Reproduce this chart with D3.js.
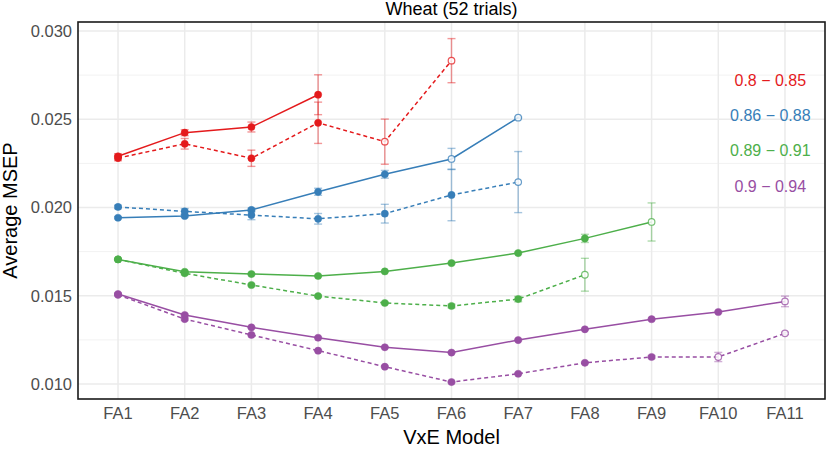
<!DOCTYPE html>
<html>
<head>
<meta charset="utf-8">
<script src="https://cdn.jsdelivr.net/npm/d3@7"></script>
<style>
  body { margin: 0; background: #fff; }
  text { font-family: "Liberation Sans", Arial, sans-serif; }
</style>
</head>
<body>
<svg width="829" height="464"></svg>
<script>
// data
const models = ["FA1", "FA2", "FA3", "FA4", "FA5", "FA6", "FA7", "FA8", "FA9", "FA10", "FA11"];
const groups = ["0.8 \u2212 0.85", "0.86 \u2212 0.88", "0.89 \u2212 0.91", "0.9 \u2212 0.94"];
const colors = ["#E41A1C", "#377EB8", "#4DAF4A", "#984EA3"];
const yTicks = [0.010, 0.015, 0.020, 0.025, 0.030];
const yMinor = [0.0125, 0.0175, 0.0225, 0.0275];

// solid = one model type, dashed = the other
const redSolid = [0.02290, 0.02424, 0.02456, 0.02639];
const redSolidErr = [0.00015, 0.00017, 0.00028, 0.00113];
const redSolidOpen = [];
const redDashed = [0.02280, 0.02361, 0.02279, 0.02480, 0.02373, 0.02832];
const redDashedErr = [0.00015, 0.00030, 0.00046, 0.00117, 0.00128, 0.00125];
const redDashedOpen = ["FA5", "FA6"];

const blueSolid = [0.01942, 0.01952, 0.01986, 0.02089, 0.02188, 0.02275, 0.02509];
const blueSolidErr = [0.00006, 0.00008, 0.00010, 0.00020, 0.00022, 0.00060, 0.00004];
const blueSolidOpen = ["FA6", "FA7"];
const blueDashed = [0.02003, 0.01978, 0.01957, 0.01936, 0.01965, 0.02071, 0.02144];
const blueDashedErr = [0.00010, 0.00016, 0.00026, 0.00030, 0.00053, 0.00146, 0.00173];
const blueDashedOpen = ["FA7"];

const greenSolid = [0.01706, 0.01636, 0.01623, 0.01612, 0.01638, 0.01685, 0.01742, 0.01825, 0.01918];
const greenSolidErr = [0.00005, 0.00005, 0.00004, 0.00004, 0.00004, 0.00004, 0.00005, 0.00023, 0.00108];
const greenSolidOpen = ["FA9"];
const greenDashed = [0.01706, 0.01627, 0.01561, 0.01498, 0.01459, 0.01442, 0.01481, 0.01619];
const greenDashedErr = [0.00005, 0.00008, 0.00005, 0.00005, 0.00005, 0.00010, 0.00015, 0.00093];
const greenDashedOpen = ["FA8"];

const purpleSolid = [0.01510, 0.01391, 0.01321, 0.01262, 0.01208, 0.01178, 0.01249, 0.01310, 0.01367, 0.01408, 0.01468];
const purpleSolidErr = [0.00006, 0.00005, 0.00004, 0.00004, 0.00004, 0.00004, 0.00004, 0.00004, 0.00005, 0.00005, 0.00030];
const purpleSolidOpen = ["FA11"];
const purpleDashed = [0.01505, 0.01368, 0.01278, 0.01189, 0.01098, 0.01011, 0.01058, 0.01120, 0.01153, 0.01153, 0.01287];
const purpleDashedErr = [0.00006, 0.00008, 0.00004, 0.00004, 0.00004, 0.00004, 0.00004, 0.00004, 0.00008, 0.00026, 0.00006];
const purpleDashedOpen = ["FA10", "FA11"];

// label annotations (x position in model units, y value)
const labelX = 10.78;
const labelY = [0.02722, 0.02524, 0.02322, 0.02122];

function series(group, dashed, vals, errs, open) {
  return {
    group, dashed,
    points: vals.map((v, i) => ({ model: models[i], v, e: errs[i], open: open.includes(models[i]) }))
  };
}

const allSeries = [
  series(0, false, redSolid, redSolidErr, redSolidOpen),
  series(0, true, redDashed, redDashedErr, redDashedOpen),
  series(1, false, blueSolid, blueSolidErr, blueSolidOpen),
  series(1, true, blueDashed, blueDashedErr, blueDashedOpen),
  series(2, false, greenSolid, greenSolidErr, greenSolidOpen),
  series(2, true, greenDashed, greenDashedErr, greenDashedOpen),
  series(3, false, purpleSolid, purpleSolidErr, purpleSolidOpen),
  series(3, true, purpleDashed, purpleDashedErr, purpleDashedOpen)
];

// layout
const svg = d3.select("svg");
const pLeft = 78, pRight = 825, pTop = 22, pBottom = 399;

const x = d3.scalePoint().domain(models).range([pLeft, pRight]).padding(0.6);
const xNum = d3.scaleLinear().domain([0.4, 11.6]).range([pLeft, pRight]);
const y = d3.scaleLinear().domain([0.00915, 0.03051]).range([pBottom, pTop]);

// grid
const grid = svg.append("g");
grid.selectAll("line.minor").data(yMinor).join("line")
  .attr("x1", pLeft).attr("x2", pRight)
  .attr("y1", d => y(d)).attr("y2", d => y(d))
  .attr("stroke", "#F2F2F2").attr("stroke-width", 1);
grid.selectAll("line.majory").data(yTicks).join("line")
  .attr("x1", pLeft).attr("x2", pRight)
  .attr("y1", d => y(d)).attr("y2", d => y(d))
  .attr("stroke", "#EBEBEB").attr("stroke-width", 1.5);
grid.selectAll("line.majorx").data(models).join("line")
  .attr("x1", d => x(d)).attr("x2", d => x(d))
  .attr("y1", pTop).attr("y2", pBottom)
  .attr("stroke", "#EBEBEB").attr("stroke-width", 1.5);

// series
const line = d3.line().x(d => x(d.model)).y(d => y(d.v));

allSeries.forEach(s => {
  const col = colors[s.group];
  const g = svg.append("g");

  g.selectAll("g.err").data(s.points).join("g").each(function (d) {
    const eg = d3.select(this)
      .attr("stroke", col).attr("stroke-opacity", 0.45).attr("stroke-width", 1.4);
    const cx = x(d.model);
    eg.append("line").attr("x1", cx).attr("x2", cx).attr("y1", y(d.v - d.e)).attr("y2", y(d.v + d.e));
    eg.append("line").attr("x1", cx - 4).attr("x2", cx + 4).attr("y1", y(d.v - d.e)).attr("y2", y(d.v - d.e));
    eg.append("line").attr("x1", cx - 4).attr("x2", cx + 4).attr("y1", y(d.v + d.e)).attr("y2", y(d.v + d.e));
  });

  g.append("path").datum(s.points)
    .attr("d", line)
    .attr("fill", "none")
    .attr("stroke", col)
    .attr("stroke-width", 1.5)
    .attr("stroke-dasharray", s.dashed ? "4,3" : null);

  g.selectAll("circle").data(s.points).join("circle")
    .attr("cx", d => x(d.model)).attr("cy", d => y(d.v))
    .attr("r", d => d.open ? 3.3 : 3.6)
    .attr("fill", d => d.open ? "#fff" : col)
    .attr("fill-opacity", d => d.open ? 0.8 : 1)
    .attr("stroke", col)
    .attr("stroke-opacity", d => d.open ? 0.75 : 1)
    .attr("stroke-width", d => d.open ? 1.2 : 0.5);
});

// group labels
svg.selectAll("text.lab").data(groups).join("text")
  .attr("x", xNum(labelX)).attr("y", (d, i) => y(labelY[i]))
  .attr("dy", "0.35em")
  .attr("text-anchor", "middle")
  .attr("font-size", 16)
  .attr("fill", (d, i) => colors[i])
  .text(d => d);

// panel border
svg.append("rect")
  .attr("x", pLeft).attr("y", pTop)
  .attr("width", pRight - pLeft).attr("height", pBottom - pTop)
  .attr("fill", "none").attr("stroke", "#1a1a1a").attr("stroke-width", 1.6);

// axes labels
svg.selectAll("text.ytick").data(yTicks).join("text")
  .attr("x", pLeft - 6).attr("y", d => y(d)).attr("dy", "0.35em")
  .attr("text-anchor", "end").attr("font-size", 16.5).attr("fill", "#4D4D4D")
  .text(d => d3.format(".3f")(d));

svg.selectAll("text.xtick").data(models).join("text")
  .attr("x", d => x(d)).attr("y", pBottom + 20)
  .attr("text-anchor", "middle").attr("font-size", 16.5).attr("fill", "#4D4D4D")
  .text(d => d);

svg.append("text")
  .attr("x", (pLeft + pRight) / 2).attr("y", 444)
  .attr("text-anchor", "middle").attr("font-size", 20).attr("fill", "#000")
  .text("VxE Model");

svg.append("text")
  .attr("transform", `translate(17,${(pTop + pBottom) / 2}) rotate(-90)`)
  .attr("text-anchor", "middle").attr("font-size", 20).attr("fill", "#000")
  .text("Average MSEP");

svg.append("text")
  .attr("x", (pLeft + pRight) / 2).attr("y", 15)
  .attr("text-anchor", "middle").attr("font-size", 18).attr("fill", "#000")
  .text("Wheat (52 trials)");
</script>
</body>
</html>
